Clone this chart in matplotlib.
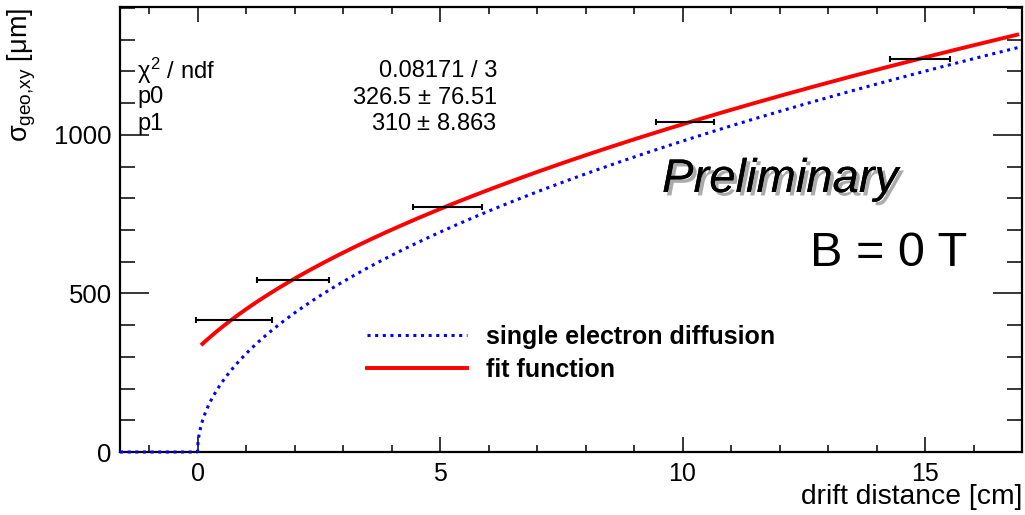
import numpy as np
import matplotlib
matplotlib.use("Agg")
import matplotlib.pyplot as plt
from matplotlib.ticker import MultipleLocator
import matplotlib.patheffects as pe

plt.rcParams['font.family'] = ['Liberation Sans', 'DejaVu Sans']
plt.rcParams['mathtext.fontset'] = 'custom'
plt.rcParams['mathtext.rm'] = 'Liberation Sans'
plt.rcParams['mathtext.it'] = 'Liberation Sans'
plt.rcParams['mathtext.bf'] = 'Liberation Sans:bold'

# measured cluster widths
drift_x = [0.75, 1.97, 5.16, 10.05, 14.90]
drift_xerr = [0.79, 0.74, 0.71, 0.60, 0.62]
sigma_geo = [416, 543, 774, 1042, 1239]

# fit parameters: sigma = sqrt(p0^2 + p1^2 * x)
p0, p0_err = 326.5, 76.51
p1, p1_err = 310.0, 8.863
chi2_label = "0.08171 / 3"
fit_range = (0.1, 16.9)

x_range = (-1.6, 17.0)
y_range = (0, 1403)

fig = plt.figure(figsize=(10.25, 5.15), dpi=100)
ax = fig.add_axes([120 / 1025, 1 - 452 / 515, 902 / 1025, 445 / 515])

# single electron diffusion: p1 * sqrt(x), zero before the readout plane
xd = np.linspace(x_range[0], x_range[1], 2000)
diff = np.where(xd > 0, p1 * np.sqrt(np.clip(xd, 0, None)), 0.0)
ax.plot(xd, diff, color='#0000ff', lw=2.2, linestyle=(0, (1, 1.5)),
        label='single electron diffusion', zorder=3, clip_on=False)

xf = np.linspace(fit_range[0], fit_range[1], 800)
ax.plot(xf, np.sqrt(p0 ** 2 + p1 ** 2 * xf), color='#ff0000', lw=2.8,
        label='fit function', zorder=4)

ax.errorbar(drift_x, sigma_geo, xerr=drift_xerr, fmt='none', ecolor='black',
            elinewidth=1.5, capsize=2.0, capthick=1.5, zorder=5)

ax.set_xlim(*x_range)
ax.set_ylim(*y_range)

ax.xaxis.set_major_locator(MultipleLocator(5))
ax.xaxis.set_minor_locator(MultipleLocator(1))
ax.yaxis.set_major_locator(MultipleLocator(500))
ax.yaxis.set_minor_locator(MultipleLocator(100))

ax.tick_params(axis='both', which='both', direction='in', top=True, right=True,
               width=1.1, labelsize=18, color='black')
ax.tick_params(axis='x', which='major', length=10.8, pad=7)
ax.tick_params(axis='x', which='minor', length=5.2)
ax.tick_params(axis='y', which='major', length=21, pad=6)
ax.tick_params(axis='y', which='minor', length=10.5)
ax.tick_params(axis='y', labelsize=18.5)
for s in ax.spines.values():
    s.set_linewidth(1.6)

fig.text(1022 / 1025, 1 - 497 / 515, 'drift distance [cm]', ha='right', va='center',
         fontsize=20.3)
fig.text(22 / 1025, 1 - 8 / 515, r'$\sigma_{\rm geo{,}xy}$ [$\mu$m]', rotation=90,
         ha='center', va='top', fontsize=19.5)

# fit statistics
stat_names = [r'$\chi^{2}$ / ndf', 'p0', 'p1']
stat_vals = [chi2_label, f'{p0} $\\pm$ {p0_err}', f'{p1:g} $\\pm$ {p1_err}']
for i, (n, v) in enumerate(zip(stat_names, stat_vals)):
    yy = 1 - (71 + 26.5 * i) / 515
    fig.text(137 / 1025, yy, n, ha='left', va='center', fontsize=17)
    fig.text(497 / 1025, yy, v, ha='right', va='center', fontsize=17)

fig.text(662 / 1025, 1 - 180 / 515, 'Preliminary', ha='left', va='center',
         fontsize=34, style='italic',
         path_effects=[pe.withSimplePatchShadow(offset=(2.5, -2.5), shadow_rgbFace='#888888', alpha=0.7),
                       pe.Normal()])
fig.text(967 / 1025, 1 - 253 / 515, 'B = 0 T', ha='right', va='center', fontsize=35)

leg = ax.legend(loc='upper left', bbox_to_anchor=((367 - 120) / 902, 1 - (325 - 7) / 445),
                frameon=False, fontsize=18, handlelength=4.0, handletextpad=0.75,
                labelspacing=0.36, borderaxespad=0, borderpad=0)
for t in leg.get_texts():
    t.set_fontweight('bold')

fig.savefig('out.png', dpi=100, facecolor='white')
